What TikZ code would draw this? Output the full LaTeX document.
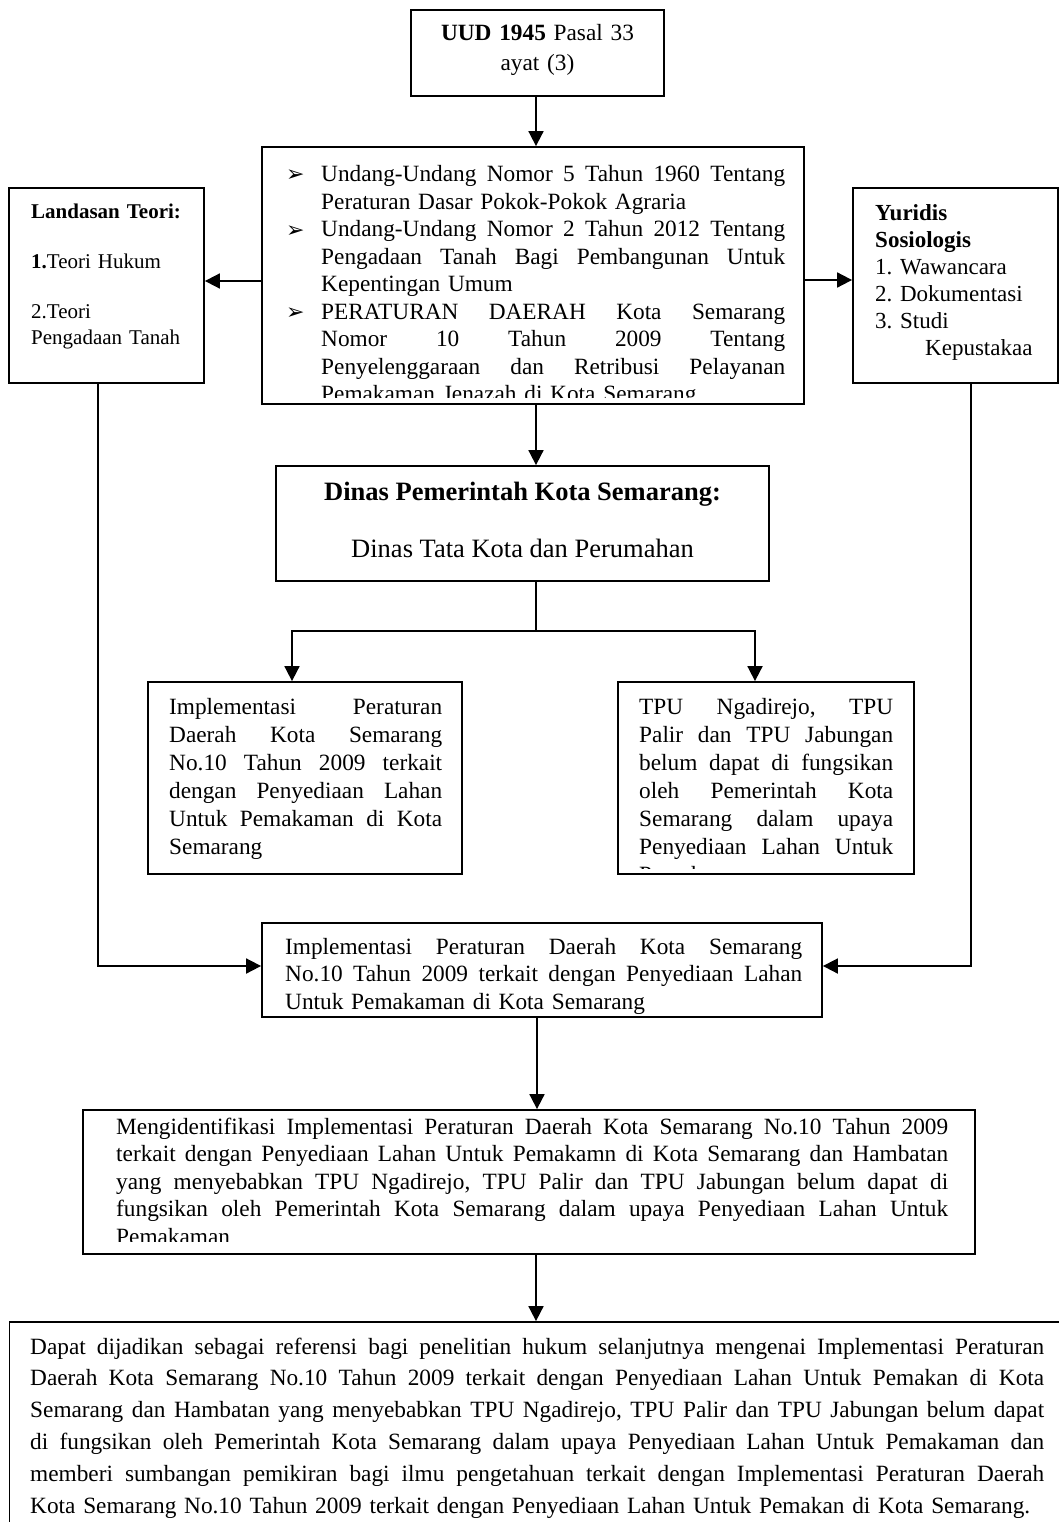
\documentclass[tikz,border=0pt]{standalone}
\usepackage{fontspec}
\setmainfont{Liberation Serif}
\newfontfamily\dejavu{DejaVu Sans}
\usetikzlibrary{arrows.meta}
\newcommand\jl[1]{{\spaceskip=\fontdimen2\font plus 1fil\relax\makebox[\linewidth][s]{#1}}}
\tikzset{
  box/.style={draw, line width=1.8pt, inner sep=0pt, rectangle},
  ln/.style={line width=1.8pt},
  arr/.style={line width=1.8pt, -{Triangle[length=15pt,width=15pt]}},
  txt/.style={inner sep=0pt, anchor=base west, align=left, font=\fontsize{23.3}{27.5}\selectfont},
  ctxt/.style={inner sep=0pt, anchor=base, align=center, font=\fontsize{23.3}{27.5}\selectfont},
  bul/.style={inner sep=0pt, anchor=base west, font=\dejavu\fontsize{22}{24}\selectfont},
}
\begin{document}
\frenchspacing
\begin{tikzpicture}[x=1pt,y=-1pt]
\clip (0,0) rectangle (1059,1522);
\fill[white] (0,0) rectangle (1059,1522);

% boxes
\node[box, minimum width=253pt, minimum height=86pt] (uud) at (537.5,53) {};
\node[box, minimum width=542pt, minimum height=257pt] (laws) at (533,275.5) {};
\node[box, minimum width=195pt, minimum height=195pt] (teori) at (106.5,285.5) {};
\node[box, minimum width=205pt, minimum height=195pt] (yur) at (955.5,285.5) {};
\node[box, minimum width=493pt, minimum height=115pt] (dinas) at (522.5,523.5) {};
\node[box, minimum width=314pt, minimum height=192pt] (impl1) at (305,778) {};
\node[box, minimum width=296pt, minimum height=192pt] (tpu) at (766,778) {};
\node[box, minimum width=560pt, minimum height=94pt] (impl2) at (542,970) {};
\node[box, minimum width=892pt, minimum height=144pt] (ident) at (529,1182) {};
\node[box, minimum width=1100pt, minimum height=260pt] (final) at (559.5,1452) {};

% texts
\node[ctxt, text width=253pt] (tuud) at (537.5,41) {\textbf{UUD 1945} Pasal 33\\[2.5pt]ayat (3)};

\begin{scope}
\clip (262,147) rectangle (804,397);
\node[bul] (b1) at (286,182) {➢};
\node[bul] (b2) at (286,237) {➢};
\node[bul] (b3) at (286,319.5) {➢};
\node[txt, text width=464pt] (tlaws) at (321,182) {%
\jl{Undang-Undang Nomor 5 Tahun 1960 Tentang}\\
Peraturan Dasar Pokok-Pokok Agraria\\
\jl{Undang-Undang Nomor 2 Tahun 2012 Tentang}\\
\jl{Pengadaan Tanah Bagi Pembangunan Untuk}\\
Kepentingan Umum\\
\jl{PERATURAN DAERAH Kota Semarang}\\
\jl{Nomor 10 Tahun 2009 Tentang}\\
\jl{Penyelenggaraan dan Retribusi Pelayanan}\\
Pemakaman Jenazah di Kota Semarang};
\end{scope}

\node[txt, text width=170pt, font=\fontsize{21}{25}\selectfont] (tteori) at (31,219) {%
\textbf{Landasan Teori:}\\[25pt]
\textbf{1.}Teori Hukum\\[25pt]
2.Teori\\
Pengadaan Tanah};

\node[txt, text width=180pt, font=\fontsize{23}{27}\selectfont] (tyur) at (875,221) {%
\textbf{Yuridis}\\
\textbf{Sosiologis}\\
1. Wawancara\\
2. Dokumentasi\\
3. Studi\\
\hspace*{50pt}Kepustakaa};

\node[ctxt, font=\fontsize{26.5}{30}\selectfont\bfseries] (tdin1) at (522.5,500) {Dinas Pemerintah Kota Semarang:};
\node[ctxt, font=\fontsize{26.5}{30}\selectfont] (tdin2) at (522.5,557) {Dinas Tata Kota dan Perumahan};

\node[txt, text width=273pt, font=\fontsize{23.3}{28}\selectfont] (timpl1) at (169,714) {%
\jl{Implementasi Peraturan}\\
\jl{Daerah Kota Semarang}\\
\jl{No.10 Tahun 2009 terkait}\\
\jl{dengan Penyediaan Lahan}\\
\jl{Untuk Pemakaman di Kota}\\
Semarang};

\begin{scope}
\clip (618,682) rectangle (914,868);
\node[txt, text width=254pt, font=\fontsize{23.3}{28}\selectfont] (ttpu) at (639,714) {%
\jl{TPU Ngadirejo, TPU}\\
\jl{Palir dan TPU Jabungan}\\
\jl{belum dapat di fungsikan}\\
\jl{oleh Pemerintah Kota}\\
\jl{Semarang dalam upaya}\\
\jl{Penyediaan Lahan Untuk}\\
Pemakaman};
\end{scope}

\node[txt, text width=517pt] (timpl2) at (285,954) {%
\jl{Implementasi Peraturan Daerah Kota Semarang}\\
\jl{No.10 Tahun 2009 terkait dengan Penyediaan Lahan}\\
Untuk Pemakaman di Kota Semarang};

\begin{scope}
\clip (83,1110) rectangle (975,1241);
\node[txt, text width=832pt] (tident) at (116,1134) {%
\jl{Mengidentifikasi Implementasi Peraturan Daerah Kota Semarang No.10 Tahun 2009}\\
\jl{terkait dengan Penyediaan Lahan Untuk Pemakamn di Kota Semarang dan Hambatan}\\
\jl{yang menyebabkan TPU Ngadirejo, TPU Palir dan TPU Jabungan belum dapat di}\\
\jl{fungsikan oleh Pemerintah Kota Semarang dalam upaya Penyediaan Lahan Untuk}\\
Pemakaman};
\end{scope}

\node[txt, text width=1014pt, font=\fontsize{23.3}{31.8}\selectfont] (tfinal) at (30,1354) {%
\jl{Dapat dijadikan sebagai referensi bagi penelitian hukum selanjutnya mengenai Implementasi Peraturan}\\
\jl{Daerah Kota Semarang No.10 Tahun 2009 terkait dengan Penyediaan Lahan Untuk Pemakan di Kota}\\
\jl{Semarang dan Hambatan yang menyebabkan TPU Ngadirejo, TPU Palir dan TPU Jabungan belum dapat}\\
\jl{di fungsikan oleh Pemerintah Kota Semarang dalam upaya Penyediaan Lahan Untuk Pemakaman dan}\\
\jl{memberi sumbangan pemikiran bagi ilmu pengetahuan terkait dengan Implementasi Peraturan Daerah}\\
\mbox{Kota Semarang No.10 Tahun 2009 terkait dengan Penyediaan Lahan Untuk Pemakan di Kota Semarang.}};

% connectors
\coordinate (sp) at (536,0);
\coordinate (ya) at (0,281);
\coordinate (yb) at (0,280);
\coordinate (br) at (536,631);
\coordinate (bl) at (292,631);
\coordinate (brr) at (755,631);
\coordinate (lx) at (98,966);
\coordinate (rx) at (971,966);
\coordinate (sp2) at (537,0);

\draw[arr] (uud.south -| sp) -- (laws.north -| sp);
\draw[arr] (laws.west |- ya) -- (teori.east |- ya);
\draw[arr] (laws.east |- yb) -- (yur.west |- yb);
\draw[arr] (laws.south -| sp) -- (dinas.north -| sp);
\draw[ln] (dinas.south -| sp) -- (br);
\draw[arr] (br) -| (impl1.north -| bl);
\draw[arr] (br) -| (tpu.north -| brr);
\draw[arr] (teori.south -| lx) |- (impl2.west |- lx);
\draw[arr] (yur.south -| rx) |- (impl2.east |- rx);
\draw[arr] (impl2.south -| sp2) -- (ident.north -| sp2);
\draw[arr] (ident.south -| sp) -- (final.north -| sp);
\end{tikzpicture}
\end{document}
